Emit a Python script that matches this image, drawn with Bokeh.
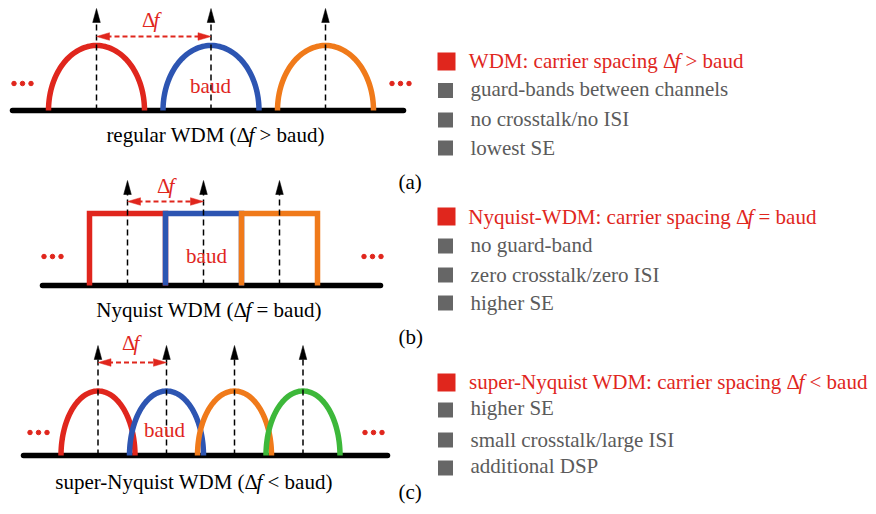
import numpy as np
from bokeh.plotting import figure
from bokeh.models import Range1d
from bokeh.embed import file_html
from bokeh.resources import INLINE
from bokeh.core.properties import value

# ---------------- data ----------------
channel_colors = ["#e0261d", "#2d55b2", "#f07a1a", "#3db83a"]
RED = "#e0261d"
GRAY_TXT = "#5b5b5b"
GRAY_SQ = "#666666"

# carrier positions and half-bandwidths (baud/2) of the three spectra
a_carriers = [96, 210.5, 325]
a_half_baud = 48
b_carriers = [127, 203, 279]
b_half_baud = 38
c_carriers = [97.5, 166, 234, 302.5]
c_half_baud = 37

panel_base = [110, 285, 455]
panel_top = [45, 213, 390.5]
panel_tip = [8, 180, 345]
panel_axis = [(12, 403), (42, 380), (23, 387)]
df_arrow_y = [36, 201, 362]
df_label = [(155, 19), (170, 185), (135, 342)]
baud_label = [(210, 85), (206, 255), (164, 429)]
dots_left = [(22, 83), (52, 256), (38, 432)]
dots_right = [(400, 83), (372, 256), (373, 432)]

captions = ["regular WDM (Δf > baud)", "Nyquist WDM (Δf = baud)",
            "super-Nyquist WDM (Δf < baud)"]
caption_split_x = [250, 247, 258]
caption_y = [134, 309, 481]
panel_tags = ["(a)", "(b)", "(c)"]
tag_y = [181, 336, 491]

headers = ["WDM: carrier spacing Δf > baud",
           "Nyquist-WDM: carrier spacing Δf = baud",
           "super-Nyquist WDM: carrier spacing Δf < baud"]
header_split_x = [676, 749, 800]
header_y = [60, 216, 381]
header_square_y = [61, 216, 382]
bullets = [["guard-bands between channels", "no crosstalk/no ISI", "lowest SE"],
           ["no guard-band", "zero crosstalk/zero ISI", "higher SE"],
           ["higher SE", "small crosstalk/large ISI", "additional DSP"]]
bullet_y = [[88, 118, 147], [244, 274, 302], [407, 439, 465]]
bullet_square_y = [[90, 119.5, 147.5], [245.5, 274.5, 302.5], [409.5, 439.5, 467.5]]

# ---------------- figure ----------------
FONT = value("Liberation Serif")
FS = "21px"

p = figure(width=876, height=514, x_range=Range1d(0, 876), y_range=Range1d(514, 0),
           output_backend="svg", toolbar_location=None, min_border=0)
p.axis.visible = False
p.grid.visible = False
p.outline_line_color = None
p.background_fill_color = "white"
p.border_fill_color = "white"

t = np.linspace(0, np.pi, 80)


def arch(c, a, base, top):
    return list(c + a * np.cos(t)), list(base - (base - top) * np.sin(t))


def txt(x, y, s, color="black", align="left", style="normal", size=FS):
    p.text(x=[x], y=[y], text=[s], text_font=FONT, text_font_size=size,
           text_color=color, text_align=align, text_baseline="alphabetic",
           text_font_style=style)


def split_text(xf, y, s, color, gap=9):
    i = s.index("Δf")
    left, rest = s[:i + 1], s[i + 2:].strip()
    txt(xf, y, left, color, align="right")
    txt(xf - 2, y, "f", color, align="left", style="italic")
    txt(xf + gap, y, rest, color, align="left")


panels = [(a_carriers, a_half_baud, "arch"), (b_carriers, b_half_baud, "rect"),
          (c_carriers, c_half_baud, "arch")]

for k, (carriers, hb, kind) in enumerate(panels):
    base, top, tip = panel_base[k], panel_top[k], panel_tip[k]
    x0, x1 = panel_axis[k]
    p.line([x0, x1], [base, base], line_color="black", line_width=5.5, line_cap="round")
    for j, c in enumerate(carriers):
        if kind == "arch":
            xs, ys = arch(c, hb, base, top)
        else:
            xs, ys = [c - hb, c - hb, c + hb, c + hb], [base, top, top, base]
        p.line(xs, ys, line_color=channel_colors[j], line_width=5.5, line_join="miter")
    for c in carriers:
        p.line([c, c], [base, tip + 12], line_color="black", line_width=1.5, line_dash="6 4")
        p.patch([c - 3.8, c, c + 3.8], [tip + 14, tip, tip + 14], fill_color="black",
                line_color="black", line_width=0.5)
    c1, c2, yd = carriers[0], carriers[1], df_arrow_y[k]
    p.line([c1 + 10, c2 - 10], [yd, yd], line_color=RED, line_width=2, line_dash="5 3")
    p.patch([c1, c1 + 13, c1 + 13], [yd, yd - 3.8, yd + 3.8], fill_color=RED, line_color=RED, line_width=0.5)
    p.patch([c2, c2 - 13, c2 - 13], [yd, yd - 3.8, yd + 3.8], fill_color=RED, line_color=RED, line_width=0.5)
    lx, ly = df_label[k]
    txt(lx, ly, "Δ", RED, align="right")
    txt(lx - 2, ly, "f", RED, align="left", style="italic")
    bx, by = baud_label[k]
    txt(bx, by, "baud", RED, align="center")
    for (dx, dy) in (dots_left[k], dots_right[k]):
        p.scatter([dx - 8.5, dx, dx + 8.5], [dy] * 3, size=4.5, color=RED)
    split_text(caption_split_x[k], caption_y[k], captions[k], "black")
    txt(398, tag_y[k], panel_tags[k], "black")
    p.rect([446], [header_square_y[k]], width=18, height=18, width_units="screen",
           height_units="screen", fill_color=RED, line_color=None)
    split_text(header_split_x[k], header_y[k], headers[k], RED)
    for s, yb, ys in zip(bullets[k], bullet_y[k], bullet_square_y[k]):
        p.rect([445], [ys], width=15, height=15, width_units="screen",
               height_units="screen", fill_color=GRAY_SQ, line_color=None)
        txt(470, yb, s, GRAY_TXT)

open("out.html", "w").write(file_html(p, INLINE))
